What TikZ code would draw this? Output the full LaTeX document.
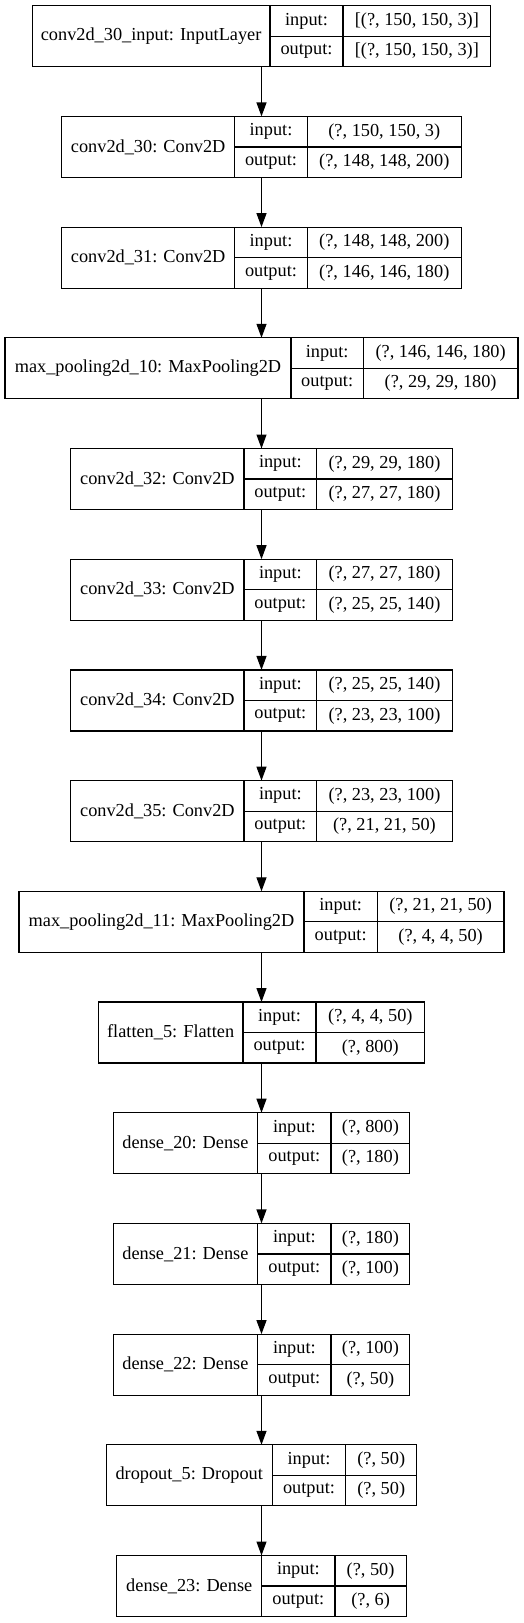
\documentclass[tikz,border=0pt]{standalone}
\usepackage{fontspec}
\setmainfont{Liberation Serif}
\usetikzlibrary{arrows.meta}
\tikzset{
  cell/.style={draw, line width=1.2pt, inner sep=0pt, minimum height=30.5, font=\fontsize{18.3}{20}\selectfont},
  layerbox/.style={inner sep=0pt, outer sep=0pt, minimum height=61},
  flow/.style={-{Triangle[length=14pt,width=10pt]}, line width=1.2pt}
}
% #1 index, #2 layer, #3..#6 column edges, #7 input shape, #8 output shape
\newcommand{\kerasrow}[8]{%
  \pgfmathsetmacro{\rowtop}{5.7+110.7*(#1-1)}
  \node[layerbox, minimum width={#6-#3}] (L#1) at ({(#3+#6)/2},{\rowtop+30.5}) {};
  \node[cell, minimum width={#4-#3}, minimum height=61] (name#1) at ({(#3+#4)/2},{\rowtop+30.5}) {#2};
  \node[cell, minimum width={#5-#4}] (inlab#1) at ({(#4+#5)/2},{\rowtop+15.25}) {input:};
  \node[cell, minimum width={#5-#4}] (outlab#1) at ({(#4+#5)/2},{\rowtop+45.75}) {output:};
  \node[cell, minimum width={#6-#5}] (inval#1) at ({(#5+#6)/2},{\rowtop+15.25}) {#7};
  \node[cell, minimum width={#6-#5}] (outval#1) at ({(#5+#6)/2},{\rowtop+45.75}) {#8};
}
\begin{document}
\begin{tikzpicture}[x=1pt,y=-1pt]
			\useasboundingbox (0,0) rectangle (523,1623);
			\kerasrow{1}{conv2d\_30\_input: InputLayer}{32.3}{270}{343}{490.7}{[(?, 150, 150, 3)]}{[(?, 150, 150, 3)]}
			\kerasrow{2}{conv2d\_30: Conv2D}{61.7}{234.7}{307.3}{461.3}{(?, 150, 150, 3)}{(?, 148, 148, 200)}
			\kerasrow{3}{conv2d\_31: Conv2D}{61.7}{234.7}{307.3}{461.3}{(?, 148, 148, 200)}{(?, 146, 146, 180)}
			\kerasrow{4}{max\_pooling2d\_10: MaxPooling2D}{5}{291}{363.3}{518}{(?, 146, 146, 180)}{(?, 29, 29, 180)}
			\kerasrow{5}{conv2d\_32: Conv2D}{70.8}{244}{316.7}{452.2}{(?, 29, 29, 180)}{(?, 27, 27, 180)}
			\kerasrow{6}{conv2d\_33: Conv2D}{70.8}{244}{316.7}{452.2}{(?, 27, 27, 180)}{(?, 25, 25, 140)}
			\kerasrow{7}{conv2d\_34: Conv2D}{70.8}{244}{316.7}{452.2}{(?, 25, 25, 140)}{(?, 23, 23, 100)}
			\kerasrow{8}{conv2d\_35: Conv2D}{70.8}{244}{316.7}{452.2}{(?, 23, 23, 100)}{(?, 21, 21, 50)}
			\kerasrow{9}{max\_pooling2d\_11: MaxPooling2D}{19}{304}{377.3}{504}{(?, 21, 21, 50)}{(?, 4, 4, 50)}
			\kerasrow{10}{flatten\_5: Flatten}{98.3}{243}{316}{424.7}{(?, 4, 4, 50)}{(?, 800)}
			\kerasrow{11}{dense\_20: Dense}{113.2}{257.7}{331}{409.8}{(?, 800)}{(?, 180)}
			\kerasrow{12}{dense\_21: Dense}{113.2}{257.7}{331}{409.8}{(?, 180)}{(?, 100)}
			\kerasrow{13}{dense\_22: Dense}{113.2}{257.7}{331}{409.8}{(?, 100)}{(?, 50)}
			\kerasrow{14}{dropout\_5: Dropout}{106.2}{272.3}{345.7}{416.8}{(?, 50)}{(?, 50)}
			\kerasrow{15}{dense\_23: Dense}{116.8}{261.7}{335}{406.2}{(?, 50)}{(?, 6)}
			\draw[flow] (L1.south) -- (L2.north);
			\draw[flow] (L2.south) -- (L3.north);
			\draw[flow] (L3.south) -- (L4.north);
			\draw[flow] (L4.south) -- (L5.north);
			\draw[flow] (L5.south) -- (L6.north);
			\draw[flow] (L6.south) -- (L7.north);
			\draw[flow] (L7.south) -- (L8.north);
			\draw[flow] (L8.south) -- (L9.north);
			\draw[flow] (L9.south) -- (L10.north);
			\draw[flow] (L10.south) -- (L11.north);
			\draw[flow] (L11.south) -- (L12.north);
			\draw[flow] (L12.south) -- (L13.north);
			\draw[flow] (L13.south) -- (L14.north);
			\draw[flow] (L14.south) -- (L15.north);
\end{tikzpicture}
\end{document}
